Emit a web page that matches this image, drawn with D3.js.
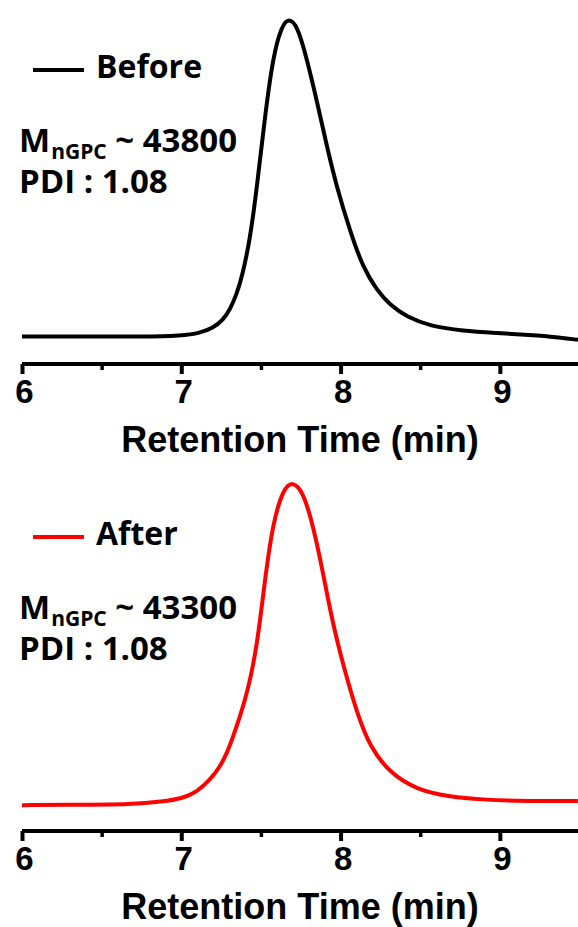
<!DOCTYPE html>
<html>
<head>
<meta charset="utf-8">
<script src="https://cdn.jsdelivr.net/npm/d3@7"></script>
<style>
  body { margin: 0; background: #fff; }
  svg { display: block; }
</style>
</head>
<body>
<svg id="chart" width="578" height="927"></svg>
<script>
// retention time (min) and normalised detector signal
var beforeTime = [6.0, 6.4, 6.74, 7.01, 7.117, 7.199, 7.262, 7.306, 7.35, 7.381, 7.431, 7.475, 7.525,
  7.575, 7.63, 7.675, 7.73, 7.79, 7.85, 7.915, 7.975, 8.06, 8.14, 8.228, 8.31, 8.417, 8.561, 8.768,
  8.982, 9.19, 9.358, 9.49];
var beforeSignal = [0.080, 0.080, 0.079, 0.082, 0.090, 0.104, 0.128, 0.157, 0.206, 0.252, 0.359, 0.513, 0.716,
  0.890, 0.980, 1.003, 0.980, 0.881, 0.765, 0.629, 0.514, 0.385, 0.280, 0.214, 0.171, 0.136, 0.110, 0.096,
  0.090, 0.084, 0.078, 0.070];

var afterTime = [6.0, 6.4, 6.678, 6.885, 7.01, 7.10, 7.18, 7.243, 7.287, 7.325, 7.368, 7.419, 7.475,
  7.525, 7.575, 7.64, 7.70, 7.765, 7.83, 7.89, 7.95, 8.02, 8.103, 8.185, 8.31, 8.48, 8.69, 8.89,
  9.11, 9.3, 9.49];
var afterSignal = [0.075, 0.076, 0.077, 0.085, 0.095, 0.114, 0.148, 0.186, 0.226, 0.273, 0.331, 0.409, 0.533,
  0.728, 0.893, 0.992, 1.014, 0.984, 0.881, 0.748, 0.603, 0.475, 0.342, 0.243, 0.168, 0.119, 0.099, 0.091,
  0.087, 0.087, 0.087];

var majorTicks = [6, 7, 8, 9];
var minorTicks = [6.5, 7.5, 8.5];

var panels = [
  { label: "Before", color: "#000000", mn: "43800", pdi: "1.08", time: beforeTime, signal: beforeSignal },
  { label: "After", color: "#ff0000", mn: "43300", pdi: "1.08", time: afterTime, signal: afterSignal }
];

var svg = d3.select("#chart");

var x = d3.scaleLinear().domain([6, 9.5]).range([22, 579.5]);

var axisFont = "'Liberation Sans', Arial, sans-serif";
var noteFont = "'Open Sans', 'Noto Sans', sans-serif";

panels.forEach(function(p, i) {
  var axisY = 364 + i * 467;
  var g = svg.append("g");

  var y = d3.scaleLinear().domain([0, 1]).range([axisY, axisY - 345]);

  var pts = p.time.map(function(t, j) { return [t, p.signal[j]]; });

  var line = d3.line()
    .x(function(d) { return x(d[0]); })
    .y(function(d) { return y(d[1]); })
    .curve(d3.curveBasis);

  g.append("path")
    .datum(pts)
    .attr("d", line)
    .attr("fill", "none")
    .attr("stroke", p.color)
    .attr("stroke-width", 4)
    .attr("stroke-linejoin", "round");

  // minor ticks
  var minor = g.append("g")
    .attr("transform", "translate(0," + axisY + ")")
    .call(d3.axisBottom(x).tickValues(minorTicks).tickSize(6).tickSizeOuter(0).tickFormat(""));
  minor.select(".domain").remove();
  minor.selectAll(".tick line").attr("stroke-width", 3.5).attr("stroke", "#000");

  // major ticks + labels
  var ax = g.append("g")
    .attr("transform", "translate(0," + axisY + ")")
    .call(d3.axisBottom(x).tickValues(majorTicks).tickSize(10).tickSizeOuter(0).tickPadding(6)
      .tickFormat(d3.format("d")));
  ax.select(".domain")
    .attr("d", "M" + x(6) + ",0H578")
    .attr("stroke", "#000")
    .attr("stroke-width", 4);
  ax.selectAll(".tick line").attr("stroke-width", 4).attr("stroke", "#000");
  ax.selectAll(".tick text")
    .attr("fill", "#000")
    .attr("dx", 2)
    .style("font-family", axisFont)
    .style("font-weight", "bold")
    .style("font-size", "33px");

  g.append("text")
    .attr("x", 300)
    .attr("y", axisY + 88)
    .attr("text-anchor", "middle")
    .style("font-family", axisFont)
    .style("font-weight", "bold")
    .style("font-size", "36px")
    .text("Retention Time (min)");

  // legend
  g.append("line")
    .attr("x1", 33).attr("x2", 84)
    .attr("y1", axisY - 294).attr("y2", axisY - 294)
    .attr("stroke", p.color)
    .attr("stroke-width", 4);

  g.append("text")
    .attr("x", 96)
    .attr("y", axisY - 286)
    .style("font-family", noteFont)
    .style("font-weight", "bold")
    .style("font-size", "32px")
    .text(p.label);

  var mn = g.append("text")
    .attr("x", 19)
    .attr("y", axisY - 212)
    .style("font-family", noteFont)
    .style("font-weight", "bold")
    .style("font-size", "33px");
  mn.append("tspan").text("M");
  mn.append("tspan").attr("dx", 1).attr("dy", 7).style("font-size", "21px").text("nGPC");
  mn.append("tspan").attr("dy", -7).text(" ~ " + p.mn);

  g.append("text")
    .attr("x", 19)
    .attr("y", axisY - 171)
    .style("font-family", noteFont)
    .style("font-weight", "bold")
    .style("font-size", "33px")
    .text("PDI : " + p.pdi);
});
</script>
</body>
</html>
